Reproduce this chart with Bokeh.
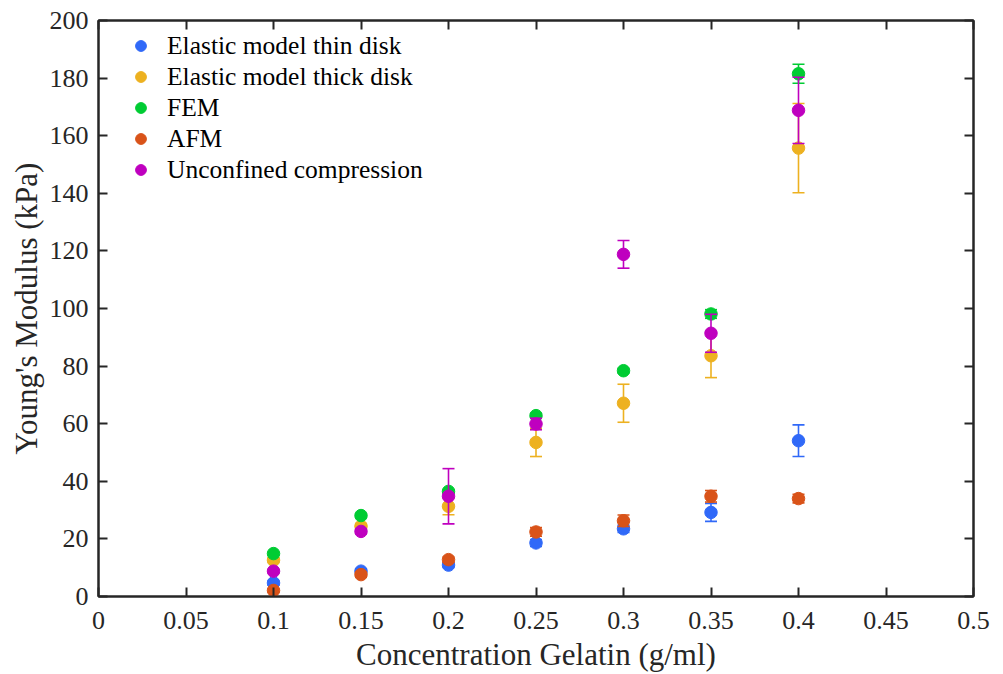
import numpy as np
from bokeh.plotting import figure
from bokeh.models import (ColumnDataSource, LinearAxis, FixedTicker, Legend, LegendItem, Range1d,
                          CustomLabelingPolicy)
from bokeh.embed import file_html
from bokeh.resources import INLINE

# ---------------- data ----------------
conc = [0.1, 0.15, 0.2, 0.25, 0.3, 0.35, 0.4]

thin_val = [4.7, 8.8, 10.9, 18.6, 23.5, 29.2, 54.1]
thin_err = [0.8, 0.8, 0.8, 1.2, 1.3, 3.1, 5.5]

thick_val = [12.6, 24.4, 31.3, 53.5, 67.1, 83.6, 155.7]
thick_err = [0.8, 0.9, 2.9, 4.9, 6.6, 7.6, 15.5]

fem_val = [14.9, 28.1, 36.5, 62.8, 78.4, 98.1, 181.5]
fem_err = [0.5, 0.5, 0.6, 0.8, 0.8, 1.5, 3.3]

afm_val = [2.1, 7.6, 12.8, 22.4, 26.3, 34.8, 34.0]
afm_err = [0.6, 0.8, 0.9, 1.5, 2.0, 2.0, 1.5]

unc_val = [8.8, 22.6, 34.8, 59.9, 118.8, 91.4, 168.8]
unc_err = [0.6, 0.8, 9.6, 2.0, 4.8, 6.6, 11.5]

series_names = ["Elastic model thin disk", "Elastic model thick disk", "FEM", "AFM",
                "Unconfined compression"]
series_vals = [thin_val, thick_val, fem_val, afm_val, unc_val]
series_errs = [thin_err, thick_err, fem_err, afm_err, unc_err]
colors = ["#3069F8", "#EDB120", "#00CC33", "#D95319", "#BF00BF"]

x_ticks = [0, 0.05, 0.1, 0.15, 0.2, 0.25, 0.3, 0.35, 0.4, 0.45, 0.5]
x_tick_labels = ["0", "0.05", "0.1", "0.15", "0.2", "0.25", "0.3", "0.35", "0.4", "0.45", "0.5"]
y_ticks = [0, 20, 40, 60, 80, 100, 120, 140, 160, 180, 200]

FONT = "Liberation Serif"
AX = "#262626"

p = figure(width=995, height=674, output_backend="svg", toolbar_location=None,
           x_range=Range1d(0, 0.5), y_range=Range1d(0, 200),
           min_border_left=98, min_border_right=22, min_border_top=20, min_border_bottom=77)

p.xgrid.visible = False
p.ygrid.visible = False
p.outline_line_color = AX
p.outline_line_width = 2
p.background_fill_color = "white"
p.border_fill_color = "white"

def style_axis(ax, labels=True):
    ax.axis_line_color = AX
    ax.axis_line_width = 2
    ax.major_tick_line_color = AX
    ax.major_tick_line_width = 2
    ax.major_tick_in = 9
    ax.major_tick_out = 0
    ax.minor_tick_line_color = None
    ax.major_label_text_font = FONT
    ax.major_label_text_color = "#262626"
    ax.major_label_text_font_size = "26px"
    if not labels:
        ax.major_label_standoff = 0
        ax.major_label_text_font_size = "0px"
        ax.major_label_policy = CustomLabelingPolicy(
            code="for (const i of Array.from(indices)) { indices.unset(i) }")

p.xaxis.ticker = FixedTicker(ticks=x_ticks)
p.yaxis.ticker = FixedTicker(ticks=y_ticks)
p.xaxis.major_label_overrides = {t: l for t, l in zip(x_ticks, x_tick_labels)}
style_axis(p.xaxis[0])
style_axis(p.yaxis[0])
p.xaxis.major_label_standoff = 15
p.yaxis.major_label_standoff = 10
p.xaxis.axis_label = "Concentration Gelatin (g/ml)"
p.yaxis.axis_label = "Young's Modulus (kPa)"
for ax in (p.xaxis[0], p.yaxis[0]):
    ax.axis_label_text_font = FONT
    ax.axis_label_text_font_size = "31px"
    ax.axis_label_text_font_style = "normal"
    ax.axis_label_text_color = "#262626"
p.xaxis.axis_label_standoff = 5
p.yaxis.axis_label_standoff = 3

top = LinearAxis(ticker=FixedTicker(ticks=x_ticks))
right = LinearAxis(ticker=FixedTicker(ticks=y_ticks))
style_axis(top, labels=False)
style_axis(right, labels=False)
p.add_layout(top, "above")
p.add_layout(right, "right")

items = []
for name, vals, errs, col in zip(series_names, series_vals, series_errs, colors):
    v = np.array(vals)
    e = np.array(errs)
    src = ColumnDataSource(dict(x=conc, y=v, lo=v - e, hi=v + e))
    p.segment(x0="x", y0="lo", x1="x", y1="hi", source=src, line_color=col, line_width=1.6)
    p.scatter(x="x", y="lo", source=src, marker="dash", size=12, line_color=col, line_width=1.6)
    p.scatter(x="x", y="hi", source=src, marker="dash", size=12, line_color=col, line_width=1.6)
    r = p.scatter(x="x", y="y", source=src, marker="circle", size=12.5,
                  fill_color=col, line_color=col, line_width=1)
    items.append(LegendItem(label=name, renderers=[r]))

legend = Legend(items=items, location=(29, 411))
legend.margin = 0
legend.padding = 0
legend.spacing = 0
legend.glyph_width = 27
legend.glyph_height = 31
legend.label_height = 31
legend.label_standoff = 13
legend.label_text_font = FONT
legend.label_text_font_size = "25.5px"
legend.label_text_color = "#000000"
legend.border_line_color = None
legend.background_fill_alpha = 0
p.add_layout(legend, "center")

open("out.html", "w").write(file_html(p, INLINE))
